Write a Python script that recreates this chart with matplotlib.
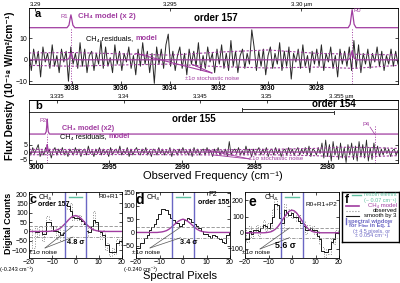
import numpy as np
import matplotlib.pyplot as plt

plt.rcParams['font.family'] = ['Liberation Sans', 'DejaVu Sans']

PURPLE = '#a03ca0'
TEAL = '#5fbfa0'
BLUE = '#6a66c4'
GRAY = '#8c8c8c'

# ---- panel a: order 157 residuals (10^-18 W/m2/cm-1), frequency grid 3039.75 -> 3024.7 cm-1
resid_a = [3, -5, 5, -2, 4, -8, 6, -1, 3, -4, 7, -3, 2, -6, 5, -1, 4, -10, 6, -2,
           3, -4, 8, -3, 5, -6, 2, 4, -5, 3, -2, 9, -4, 6, -3, 1, -6, 7, -2, 4,
           -5, 3, -1, 6, -4, 2, -7, 5, -3, 8, -2, 4, -6, 3, -11, 6, -2, 5, -4, 7,
           12, -3, 4, -5, 2, 6, -4, 3, -7, 5, -2, 4, -3, 8, -5, 2, -4, 6, -1, 3,
           -6, 5, -2, 7, -4, 3, -5, 9, -3, 4, -6, 2, 5, -4, 3, -2, 14, 6, -5, 4,
           -3, 5, -7, 2, 6, -4, 3, -2, 8, -5, 4, -3, 6, -9, 3, -1, 5, -4, 7, -3,
           2, -6, 4, -2, 5, -3, 7, -5, 3, -1, 6, -4, 2, -8, 5, -2, 4, -3, 6, -5,
           9, -4, 7, -6, 3, -2, 5, -4, 3, -1, 6, -3, 4, -5, 2, -2, 5, -3, 4, -2]
freq_a_lim = (3039.75, 3024.7)
noise_a_freq = [3039.75, 3038, 3036, 3034, 3032, 3030, 3028, 3026.5, 3024.7]
noise_a_up = [3.2, 3.4, 2.8, 2.2, 3.6, 4.6, 3.0, 2.6, 2.3]
noise_a_lo = [-2.6, -3.0, -2.4, -2.0, -3.2, -3.8, -3.4, -4.0, -2.6]
model_a_freq = [3039.75, 3038.2, 3038.12, 3038.07, 3038.04, 3038.01, 3037.96, 3037.88,
                3026.73, 3026.65, 3026.6, 3026.57, 3026.54, 3026.49, 3026.41, 3024.7]
model_a = [0, 0, 0.6, 2.2, 3.0, 2.2, 0.6, 0, 0, 0.8, 3.0, 4.2, 3.0, 0.8, 0, 0]
lines_a = [3038.04, 3026.57]
xt_a = [3038, 3036, 3034, 3032, 3030, 3028]
top_a_pos = [3039.5, 3034.0, 3028.65]
top_a_lbl = ['3.29', '3.295', '3.30 \u00b5m']

# ---- panel b: orders 155/154 residuals, frequency grid 3000.5 -> 2975.2 cm-1
resid_b = [1, -2, 3, -1, 2, 5, -3, 1, -2, 3, -1, 2, -4, 1, 3, -2, 2, -1, 3, -2,
           1, -3, 2, 0, -2, 3, -1, 2, -3, 1, 2, -2, 4, -1, 1, -3, 2, -1, 3, -2,
           2, -1, 1, -3, 3, -2, 1, 2, -1, 4, -2, 1, -1, 3, -3, 2, -2, 1, 3, -1,
           -2, 2, -1, 3, -2, 1, -3, 2, 1, -2, 3, -1, 2, -2, 1, -1, 3, -3, 2, 1,
           -2, 2, -1, 3, -1, 1, -2, 2, -3, 3, -1, 2, -2, 1, 2, -2, 3, -1, 1, -3,
           2, -1, 3, -2, 1, -1, 2, -3, 7, -2, 1, 2, -1, 3, -2, 1, -2, 4, -1, 2,
           -3, 2, -2, 1, 3, -2, 2, -1, 3, -3, 1, 2, -2, 3, -1, 2, -3, 1, 2, -2,
           3, -1, 2, -2, 1, 3, -2, 2, -1, 3, -2, 4, -3, 2, 1, -2, 3, -1, 6, -4,
           8, -3, 5, -6, 7, -2, 4, -5, 6, -4, 3, -7, 5, -2, 6, -5, 4, -6, 7, -3,
           5, -4, 8, -6, 3, -5, 6, -2, 4, -3, 2, -2, 3, -1, 2, -3, 1, 2, -2, 1]
freq_b_lim = (3000.5, 2975.2)
noise_b_freq = [3000.5, 2996, 2992, 2988, 2984, 2981, 2979, 2977, 2975.2]
noise_b_up = [1.8, 1.6, 1.7, 1.5, 1.8, 2.4, 3.2, 3.0, 2.4]
noise_b_lo = [-1.8, -1.6, -1.7, -1.9, -1.8, -2.4, -3.2, -3.0, -2.4]
model_b_freq = [3000.5, 2999.4, 2999.32, 2999.28, 2999.25, 2999.22, 2999.18, 2999.1, 2975.2]
model_b = [0, 0, 0.8, 3.0, 5.0, 3.0, 0.8, 0, 0]
lines_b = [2999.25, 2976.8]
order155 = (3000.5, 2979.6)
order154 = (2985.9, 2975.2)
xt_b = [3000, 2995, 2990, 2985, 2980]
top_b_pos = [2998.6, 2994.0, 2988.8, 2984.2, 2979.1]
top_b_lbl = ['3.335', '3.34', '3.345', '3.35', '3.355 \u00b5m']

# ---- panels c, d, e: spectral pixels -20..20 (digital counts)
pixels = np.arange(-20, 21)
smooth_c = [5, 5, 5, -5, -5, 5, -15, -15, 50, 50, 30, 5, 5, -5, -20, -10, 140, 135, 110, 75,
            70, 70, 65, 55, 40, 0, -5, 30, 60, 50, 5, -5, -20, -70, -70, -110, -110, -110, -60, -50, -50]
obs_c = [0, 15, -90, 20, -30, 30, -50, 10, 80, 60, 10, 30, -40, 20, -50, 10, 150, 120, 150, 60,
         80, 60, 90, 40, 50, -30, 30, 10, 110, 40, 0, -40, 10, -100, -60, -130, -90, -120, -40, -70, -30]
model_c = [0, 0, 0, 0, 0, 0, 0, 0, 0, 1, 2, 4, 8, 14, 23, 35, 48, 62, 74, 82,
           85, 82, 74, 62, 48, 35, 23, 14, 8, 4, 2, 1, 0, 0, 0, 0, 0, 0, 0, 0, 0]
smooth_d = [-60, -60, -40, -40, -20, -10, 10, 20, 30, 50, 70, 90, 90, 85, 70, 55, 45, 35, 35, 25,
            30, 45, 55, 50, 40, 30, 25, 15, 5, -5, -5, -15, -20, -10, -15, -20, -25, -35, -40, -10, 0]
model_d = [0, 0, 0, 0, 0, 0, 0, 0, 0, 0, 1, 2, 4, 7, 12, 19, 27, 35, 42, 47,
           50, 47, 42, 35, 27, 19, 12, 7, 4, 2, 1, 0, 0, 0, 0, 0, 0, 0, 0, 0, 0]
smooth_e = [-40, -40, 10, -10, 20, 20, 10, 30, 50, 40, 30, 60, 100, 180, 170, 90, 60, 140, 120, 110,
            120, 100, 100, 70, 60, 40, 20, 20, 30, 20, 20, -20, -40, -110, -120, -120, -100, -60, -40, 0, 0]
obs_e = [30, -60, 40, -30, 10, 50, -20, 40, 80, 10, 60, 20, 150, 210, 150, 120, 20, 180, 100, 150,
         90, 130, 70, 110, 30, 70, -10, 50, 10, 40, -10, 10, -70, -90, -150, -100, -130, -30, -70, 20, -10]
model_e = [0, 0, 0, 0, 0, 0, 0, 0, 0, 1, 3, 6, 13, 23, 38, 58, 80, 102, 122, 135,
           140, 135, 122, 102, 80, 58, 38, 23, 13, 6, 3, 1, 0, 0, 0, 0, 0, 0, 0, 0, 0]
sigma_c, sigma_d, sigma_e = 30, 20, 30
window = 4.5
resoln = 2.9

W, H = 400, 283
fig = plt.figure(figsize=(W / 100, H / 100), dpi=100)


def box(l, t, r, b):
    return fig.add_axes([l / W, 1 - b / H, (r - l) / W, (b - t) / H])


def ftext(x, y, s, **kw):
    kw.setdefault('ha', 'center')
    kw.setdefault('va', 'center')
    return fig.text(x / W, 1 - y / H, s, **kw)


def style(ax):
    for s in ax.spines.values():
        s.set_linewidth(0.6)
    ax.tick_params(length=2, width=0.5, pad=1, labelsize=5, direction='in')


# ---------------- panel a
ax = box(29, 8, 398, 84)
style(ax)
fa = np.linspace(freq_a_lim[0], freq_a_lim[1], len(resid_a))
ax.plot(fa, resid_a, color='#262626', lw=0.7)
ax.plot(noise_a_freq, noise_a_up, color=PURPLE, lw=0.8, ls=(0, (2, 1.5)))
ax.plot(noise_a_freq, noise_a_lo, color=PURPLE, lw=0.8, ls=(0, (2, 1.5)))
ax.plot(model_a_freq, model_a, color=PURPLE, lw=0.9)
ax.plot(model_a_freq, 15 + 2 * np.array(model_a), color=PURPLE, lw=0.9)
ax.vlines(lines_a, -11.3, 15, color=PURPLE, lw=0.7, ls=':')
ax.set_xlim(*freq_a_lim)
ax.set_ylim(-11.3, 24.2)
ax.set_xticks(xt_a)
ax.set_xticklabels([str(v) for v in xt_a], fontweight='bold', fontsize=5)
ax.set_yticks([-10, 0, 10])
ax.tick_params(axis='y', right=True)
sec = ax.secondary_xaxis('top')
sec.set_xticks(top_a_pos, labels=top_a_lbl)
sec.tick_params(length=2, width=0.5, pad=0.5, labelsize=4.2, direction='in')
sec.spines['top'].set_linewidth(0.6)

ftext(35, 14, 'a', fontsize=8, fontweight='bold', ha='left')
ftext(64, 16, 'R1', fontsize=4.2, color=PURPLE)
ftext(78, 17, 'CH\u2084 model (x 2)', fontsize=5.6, color=PURPLE, fontweight='bold', ha='left')
ftext(216, 18, 'order 157', fontsize=7, fontweight='bold')
ftext(357, 11, 'R0', fontsize=4.2, color=PURPLE)
t = ftext(86, 39, 'CH\u2084 residuals, ', fontsize=5.3, ha='left')
ax.annotate('model', xy=(1, 0.5), xycoords=t, va='center', ha='left', fontsize=5.3,
            color=PURPLE, fontweight='bold')
ftext(212, 78, '\u00b11\u03c3 stochastic noise', fontsize=4.2, color=PURPLE)
for xf, yf in [(3035.4, 3.0), (3033.1, -2.1)]:
    ax.annotate('', xy=(xf, yf), xytext=(212 / W, 1 - 73 / H), textcoords='figure fraction',
                arrowprops=dict(arrowstyle='-', color=PURPLE, lw=0.8, shrinkA=0, shrinkB=0))

# ---------------- panel b
ax = box(29, 100, 398, 163)
style(ax)
fb = np.linspace(freq_b_lim[0], freq_b_lim[1], len(resid_b))
ax.plot(fb, resid_b, color='#262626', lw=0.6)
ax.plot(noise_b_freq, noise_b_up, color=PURPLE, lw=0.8, ls=(0, (2, 1.5)))
ax.plot(noise_b_freq, noise_b_lo, color=PURPLE, lw=0.8, ls=(0, (2, 1.5)))
ax.plot(model_b_freq, model_b, color=PURPLE, lw=0.9)
ax.plot(model_b_freq, 12 + 2 * np.array(model_b), color=PURPLE, lw=0.9)
ax.vlines(lines_b, -7.3, [12, 18], color=PURPLE, lw=0.7, ls=':')
ax.set_xlim(*freq_b_lim)
ax.set_ylim(-7.3, 34.7)
ax.set_xticks(xt_b)
ax.set_xticklabels([str(v) for v in xt_b], fontweight='bold', fontsize=5)
ax.set_yticks([-5, 0, 5])
ax.tick_params(axis='y', right=True)
sec = ax.secondary_xaxis('top')
sec.set_xticks(top_b_pos, labels=top_b_lbl)
sec.tick_params(length=2, width=0.5, pad=0.5, labelsize=4.2, direction='in')
sec.spines['top'].set_linewidth(0.6)
# order brackets
ax.plot(order155, [26.7, 26.7], color='#333', lw=0.7)
ax.plot([order155[1]] * 2, [25.7, 27.7], color='#333', lw=0.7)
ax.plot(order154, [28.7, 28.7], color='#333', lw=0.7)
ax.plot([order154[0]] * 2, [27.7, 29.7], color='#333', lw=0.7)

ftext(35, 106, 'b', fontsize=8, fontweight='bold', ha='left')
ftext(334, 104, 'order 154', fontsize=7, fontweight='bold')
ftext(194, 119, 'order 155', fontsize=7, fontweight='bold')
ftext(43, 121, 'P2', fontsize=4.2, color=PURPLE)
ftext(62, 128, 'CH\u2084 model (x2)', fontsize=5.2, color=PURPLE, fontweight='bold', ha='left')
t = ftext(60, 137, 'CH\u2084 residuals, ', fontsize=5.2, ha='left')
ax.annotate('model', xy=(1, 0.5), xycoords=t, va='center', ha='left', fontsize=5.2,
            color=PURPLE, fontweight='bold')
ftext(366, 124, 'P4', fontsize=4.2, color=PURPLE)
ax.annotate('', xy=(lines_b[1], 12), xytext=(370 / W, 1 - 127 / H), textcoords='figure fraction',
            arrowprops=dict(arrowstyle='-', color=PURPLE, lw=0.5, shrinkA=0, shrinkB=0))
ftext(276, 159, '\u00b11\u03c3 stochastic noise', fontsize=4.2, color=PURPLE)
for xf, yf in [(2988.4, 1.5), (2987.9, -1.9)]:
    ax.annotate('', xy=(xf, yf), xytext=(250 / W, 1 - 159 / H), textcoords='figure fraction',
                arrowprops=dict(arrowstyle='-', color=PURPLE, lw=0.6, shrinkA=0, shrinkB=0))

ftext(10, 86, 'Flux Density (10\u207b\u00b9\u2078 W/m\u00b2/cm\u207b\u00b9)', rotation=90,
      fontsize=7.3, fontweight='bold')
ftext(213, 176, 'Observed Frequency (cm\u207b\u00b9)', fontsize=8)


# ---------------- panels c, d, e
def small(l, r, ylim, yt, smooth, model, sigma, obs=None):
    ax = box(l, 192, r, 258)
    style(ax)
    if obs is not None:
        ax.plot(pixels, obs, drawstyle='steps-mid', color=GRAY, lw=0.7, ls=':')
    ax.plot(pixels, smooth, drawstyle='steps-mid', color='#1a1a1a', lw=0.7)
    ax.plot(pixels, model, color=PURPLE, lw=1.0)
    ax.axhline(sigma, color=GRAY, lw=0.6, ls=(0, (4, 2)))
    ax.axhline(-sigma, color=GRAY, lw=0.6, ls=(0, (4, 1.5, 1, 1.5)))
    ax.axvline(-window, color=BLUE, lw=1.0)
    ax.axvline(window, color=BLUE, lw=1.0)
    ax.plot([-resoln, resoln], [0.92, 0.92], color=TEAL, lw=1.0, transform=ax.get_xaxis_transform())
    ax.set_xlim(-20, 20)
    ax.set_ylim(*ylim)
    ax.set_xticks([-20, -10, 0, 10, 20])
    ax.set_yticks(yt)
    ax.tick_params(right=True, top=True)
    return ax


ax_c = small(29, 122, (-142, 211), [-100, -50, 0, 50, 100, 150, 200], smooth_c, model_c, sigma_c, obs_c)
ax_d = small(136, 230, (-96, 152), [-50, 0, 50, 100, 150], smooth_d, model_d, sigma_d)
ax_e = small(245, 339, (-156, 252), [-100, 0, 100, 200], smooth_e, model_e, sigma_e, obs_e)

# callouts from "±1σ noise" to the sigma lines
for ax_s, tx, ty, sig in [(ax_c, 45, 248, sigma_c), (ax_d, 150, 248, sigma_d), (ax_e, 260, 249, sigma_e)]:
    for yy in [sig, -sig]:
        ax_s.annotate('', xy=(-1, yy), xytext=(tx / W, 1 - ty / H), textcoords='figure fraction',
                      arrowprops=dict(arrowstyle='-', color='#555', lw=0.5, shrinkA=0, shrinkB=0))

ftext(33, 200, 'c', fontsize=9, fontweight='bold')
ftext(39, 197, 'CH\u2084', fontsize=5, ha='left')
ftext(38, 205, 'order 157', fontsize=5, fontweight='bold', ha='left')
ftext(109, 197, 'R0+R1', fontsize=4.6)
ftext(76, 243, '4.8 \u03c3', fontsize=5.3, fontweight='bold')
ftext(43, 253, '\u00b11\u03c3 noise', fontsize=4.6)
ftext(17, 269, '(-0.243 cm\u207b\u00b9)', fontsize=4)

ftext(140, 200, 'd', fontsize=10, fontweight='bold')
ftext(147, 197, 'CH\u2084', fontsize=5, ha='left')
ftext(213, 195, 'P2', fontsize=5)
ftext(214, 203, 'order 155', fontsize=5, fontweight='bold')
ftext(189, 242, '3.4 \u03c3', fontsize=5.3, fontweight='bold')
ftext(146, 253, '\u00b11\u03c3 noise', fontsize=4.6)
ftext(141, 269, '(-0.240 cm\u207b\u00b9)', fontsize=4)

ftext(252, 202, 'e', fontsize=10, fontweight='bold')
ftext(265, 197, 'CH\u2084', fontsize=5, ha='left')
ftext(321, 204, 'R0+R1+P2', fontsize=4.6)
ftext(285, 246, '5.6 \u03c3', fontsize=6.3, fontweight='bold')
ftext(256, 253, '\u00b11\u03c3 noise', fontsize=4.6)

ftext(9, 223, 'Digital Counts', rotation=90, fontsize=6.5, fontweight='bold')
ftext(180, 276, 'Spectral Pixels', fontsize=8)

# ---------------- panel f (legend box)
axf = box(342, 192, 399, 242)
axf.set_xticks([])
axf.set_yticks([])
for s in axf.spines.values():
    s.set_linewidth(1.0)
axf.set_xlim(342, 399)
axf.set_ylim(242, 192)
axf.plot([352, 361], [195, 195], color=TEAL, lw=1.0)
axf.plot([346, 359], [206, 206], color=PURPLE, lw=1.2)
axf.plot([346, 359], [211, 211], color=GRAY, lw=0.8, ls=':')
axf.plot([346, 359], [216, 216], color='#1a1a1a', lw=0.8)
axf.plot([346, 346], [218, 224], color=BLUE, lw=1.0)
ftext(345, 200, 'f', fontsize=8.5, fontweight='bold', ha='left')
ftext(397, 195, 'resoln elemnt', fontsize=3.9, color=TEAL, ha='right')
ftext(397, 200.5, '(~ 0.07 cm\u207b\u00b9)', fontsize=3.9, color=TEAL, ha='right')
ftext(397, 206, 'CH\u2084 model', fontsize=4.3, color=PURPLE, ha='right')
ftext(397, 211, 'observed', fontsize=4.3, ha='right')
ftext(397, 216, 'smooth by 3', fontsize=4.3, ha='right')
ftext(348, 221, 'spectral window', fontsize=4.1, color=BLUE, fontweight='bold', ha='left')
ftext(349, 226, 'for F\u2097\u1d62\u2099\u2091 in Eq. 1', fontsize=4.1, color=BLUE, fontweight='bold', ha='left')
ftext(372, 231, '(\u00b1 4.5 pixels, or', fontsize=3.9, color=BLUE)
ftext(372, 236, '\u00b1 0.054 cm\u207b\u00b9)', fontsize=3.9, color=BLUE)

fig.savefig('out.png', dpi=100)
